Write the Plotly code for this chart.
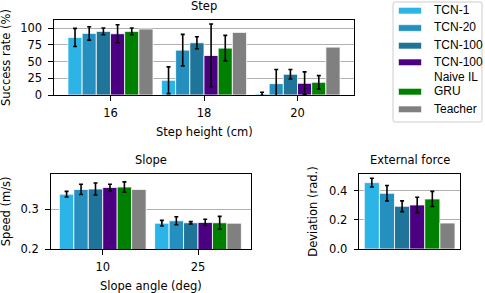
import plotly.graph_objects as go

# ---------------- data ----------------
series = ["TCN-1", "TCN-20", "TCN-100", "TCN-100 Naive IL", "GRU", "Teacher"]
legend_lines = [["TCN-1"], ["TCN-20"], ["TCN-100"], ["TCN-100", "Naive IL"], ["GRU"], ["Teacher"]]
colors = ["#2db4e6", "#2590c0", "#1f7599", "#4b0082", "#008000", "#808080"]

step_heights = ["16", "18", "20"]
step_mean = [
    [86, 22, 1.5],
    [92, 67, 17],
    [95, 78, 31],
    [91.5, 59, 17.5],
    [95, 70, 19],
    [98.5, 93.5, 71.5],
]
step_err = [
    [13.5, 20, 2.5],
    [10, 23.5, 21],
    [5, 9, 7],
    [13.5, 47, 17],
    [5, 19, 10],
    None,
]

slope_angles = ["10", "25"]
slope_mean = [
    [0.338, 0.265],
    [0.350, 0.271],
    [0.351, 0.266],
    [0.355, 0.267],
    [0.356, 0.266],
    [0.350, 0.265],
]
slope_err = [
    [0.007, 0.007],
    [0.013, 0.010],
    [0.015, 0.003],
    [0.008, 0.008],
    [0.013, 0.016],
    None,
]

force_cat = ["force"]
force_mean = [0.455, 0.382, 0.293, 0.302, 0.343, 0.178]
force_err = [0.030, 0.053, 0.037, 0.053, 0.052, None]

step_yticks = [0, 25, 50, 75, 100]
slope_yticks = [0.2, 0.3]
force_yticks = [0.0, 0.2, 0.4]

# ---------------- layout helpers ----------------
W, H = 485, 293
def px(x):
    return x / W
def py(y):
    return 1 - y / H

FONT = "DejaVu Sans"
FS = 11.5


def err(arr):
    if arr is None:
        return dict(visible=False)
    return dict(type="data", array=arr, visible=True, color="black", thickness=1.6, width=2)


fig = go.Figure()
for i, name in enumerate(series):
    mk = dict(color=colors[i], line=dict(color="white", width=0.8))
    fig.add_trace(go.Bar(x=step_heights, y=step_mean[i], error_y=err(step_err[i]),
                         marker=mk, name=name, showlegend=False, xaxis="x", yaxis="y"))
    fig.add_trace(go.Bar(x=slope_angles, y=slope_mean[i], error_y=err(slope_err[i]),
                         marker=mk, name=name, showlegend=False, xaxis="x2", yaxis="y2"))
    fig.add_trace(go.Bar(x=force_cat, y=[force_mean[i]],
                         error_y=err(None if force_err[i] is None else [force_err[i]]),
                         marker=mk, name=name, showlegend=False, xaxis="x3", yaxis="y3"))

axis_common = dict(showline=True, linecolor="black", linewidth=1.2, mirror=True,
                   ticks="outside", ticklen=4.5, tickwidth=1.2, tickcolor="black",
                   tickfont=dict(family=FONT, size=FS, color="black"), zeroline=False)

xax = dict(axis_common, type="category", showgrid=False)
yax = dict(axis_common, showgrid=True, gridcolor="#b0b0b0", gridwidth=1, ticklabelstandoff=4)

fig.update_layout(
    width=W, height=H,
    margin=dict(l=0, r=0, t=0, b=0, autoexpand=False),
    paper_bgcolor="white", plot_bgcolor="white",
    barmode="group", bargap=0.09, bargroupgap=0,
    showlegend=False,
    font=dict(family=FONT, size=FS, color="black"),
    xaxis=dict(xax, domain=[px(54), px(354)], anchor="y", range=[-0.604, 2.604], ticklabelstandoff=3),
    yaxis=dict(yax, domain=[py(95), py(20)], anchor="x", range=[0, 112], tickvals=step_yticks),
    xaxis2=dict(xax, domain=[px(50.7), px(250.7)], anchor="y2", range=[-0.546, 1.553], ticklabelstandoff=3),
    yaxis2=dict(yax, domain=[py(249), py(174.3)], anchor="x2", range=[0.2, 0.388],
                tickvals=slope_yticks, tickformat=".1f"),
    xaxis3=dict(xax, domain=[px(359.3), px(460)], anchor="y3", range=[-0.505, 0.505],
                ticks="", showticklabels=False),
    yaxis3=dict(yax, domain=[py(249), py(174.3)], anchor="x3", range=[0, 0.512],
                tickvals=force_yticks, tickformat=".1f"),
)

anns = []
def text(x, y, s, angle=0, xanchor="center", family=FONT, size=FS):
    anns.append(dict(x=px(x), y=py(y), xref="paper", yref="paper", text=s, showarrow=False,
                     xanchor=xanchor, yanchor="middle", textangle=angle,
                     font=dict(family=family, size=size, color="black")))

text(204, 6, "Step")
text(204, 132, "Step height (cm)")
text(5.5, 57.5, "Success rate (%)", angle=-90)
text(150.7, 160, "Slope")
text(150.7, 286, "Slope angle (deg)")
text(5.5, 211.7, "Speed (m/s)", angle=-90)
text(409.6, 160, "External force")
text(313, 211.7, "Deviation (rad.)", angle=-90)

# legend (drawn manually)
shapes = [dict(type="path", xref="paper", yref="paper",
               path=f"M {px(395)},{py(2)} L {px(480)},{py(2)} Q {px(482)},{py(2)} {px(482)},{py(4)} "
                    f"L {px(482)},{py(120)} Q {px(482)},{py(122)} {px(480)},{py(122)} "
                    f"L {px(395)},{py(122)} Q {px(393)},{py(122)} {px(393)},{py(120)} "
                    f"L {px(393)},{py(4)} Q {px(393)},{py(2)} {px(395)},{py(2)} Z",
               line=dict(color="#cccccc", width=1), fillcolor="white", layer="below")]
leg_y = [10.7, 28, 45.7, 62.3, 91.7, 109.3]
for i, lines in enumerate(legend_lines):
    yc = leg_y[i]
    shapes.append(dict(type="rect", xref="paper", yref="paper",
                       x0=px(398.5), x1=px(421.5), y0=py(yc + 3.3), y1=py(yc - 3.3),
                       fillcolor=colors[i], line=dict(color="white", width=0.6), layer="above"))
    for j, ln in enumerate(lines):
        text(431.5, yc - 0.5 + j * 15, ln, xanchor="left", family="Liberation Sans", size=12)

fig.update_layout(annotations=anns, shapes=shapes)
fig.write_html("out.html", config={"displayModeBar": False},
               post_script="document.body.style.margin='0';document.body.style.padding='0';")
